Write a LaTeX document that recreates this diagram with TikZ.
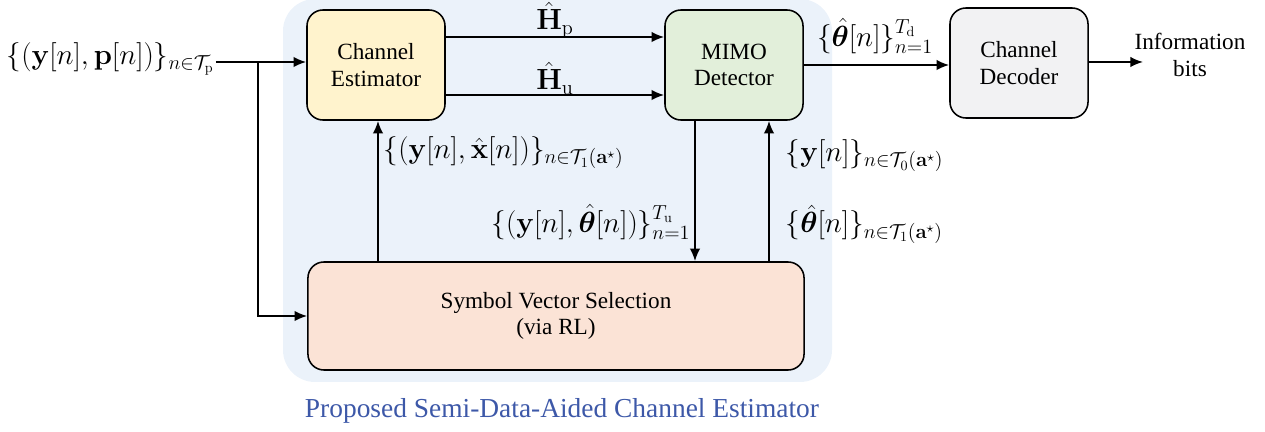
\documentclass[tikz,border=0pt]{standalone}
\usepackage[no-math]{fontspec}
\setmainfont{Liberation Serif}
\usepackage{amsmath,bm}
\usetikzlibrary{arrows.meta}

\definecolor{bgblue}{HTML}{EBF2FA}
\definecolor{estyellow}{HTML}{FFF3CD}
\definecolor{detgreen}{HTML}{E2EFDA}
\definecolor{decgray}{HTML}{F2F2F3}
\definecolor{selpink}{HTML}{FBE3D6}
\definecolor{capblue}{HTML}{3D58A8}

\begin{document}
\begin{tikzpicture}[x=0.025cm, y=-0.025cm,
    font=\fontsize{16.5}{19}\selectfont,
    block/.style={draw, line width=1.1pt, rounded corners=0.4cm, align=center,
        minimum width=3.45cm, minimum height=2.75cm},
    lbl/.style={font=\fontsize{20}{24}\selectfont, inner sep=1pt},
    arr/.style={-{Latex[length=9pt, width=7.5pt]}, line width=1.3pt}]
    \useasboundingbox (0,0) rectangle (1265,432);
    % Background of the proposed estimator
    \fill[bgblue, rounded corners=0.8cm] (283,-1) rectangle (832,382);

    % Blocks
    \node[block, fill=estyellow] (ce) at (376,65) {Channel\\Estimator};
    \node[block, fill=detgreen] (mimo) at (734,65) {MIMO\\Detector};
    \node[block, fill=decgray] (dec) at (1019,63) {Channel\\Decoder};
    \node[block, fill=selpink, minimum width=12.4cm, minimum height=2.7cm] (svs) at (556,316)
        {Symbol Vector Selection\\(via RL)};

    % Input and output texts
    \node[lbl, anchor=west] (inp) at (5,59) {$\{(\mathbf{y}[n],\mathbf{p}[n])\}_{n\in\mathcal{T}_\mathrm{p}}$};
    \node[align=center] (bits) at (1190,55) {Information\\bits};
    \coordinate (br) at (258,62);
    \coordinate (out) at (1143,62);

    % Input to estimator and selection
    \draw[arr] (inp.east |- br) -- (ce.west |- br);
    \draw[arr] (br) |- (svs.west);

    % Channel estimates
    \draw[arr] (ce.east |- 0,37) -- (mimo.west |- 0,37);
    \draw[arr] (ce.east |- 0,95) -- (mimo.west |- 0,95);
    \node[lbl] (hp) at (555,20) {$\hat{\mathbf{H}}_\mathrm{p}$};
    \node[lbl] (hu) at (555,78) {$\hat{\mathbf{H}}_\mathrm{u}$};

    % Feedback between selection, estimator and detector
    \draw[arr] (svs.north -| 378,0) -- (ce.south -| 378,0);
    \node[lbl, anchor=west] (lx) at (382,153) {$\{(\mathbf{y}[n],\hat{\mathbf{x}}[n])\}_{n\in\mathcal{T}_1(\mathbf{a}^\star)}$};
    \draw[arr] (mimo.south -| 695,0) -- (svs.north -| 695,0);
    \node[lbl, anchor=east] (lth) at (692,222) {$\{(\mathbf{y}[n],\hat{\bm{\theta}}[n])\}_{n=1}^{T_\mathrm{u}}$};
    \draw[arr] (svs.north -| 769,0) -- (mimo.south -| 769,0);
    \node[lbl, anchor=west] (ly) at (784,156) {$\{\mathbf{y}[n]\}_{n\in\mathcal{T}_0(\mathbf{a}^\star)}$};
    \node[lbl, anchor=west] (lt) at (784,224) {$\{\hat{\bm{\theta}}[n]\}_{n\in\mathcal{T}_1(\mathbf{a}^\star)}$};

    % Detector output to decoder
    \draw[arr] (mimo.east |- 0,65) -- (dec.west |- 0,65);
    \node[lbl] (ltd) at (875,36) {$\{\hat{\bm{\theta}}[n]\}_{n=1}^{T_\mathrm{d}}$};
    \draw[arr] (dec.east |- out) -- (out);

    % Caption
    \node[text=capblue, font=\fontsize{19.5}{22}\selectfont] (cap) at (562,411) {Proposed Semi-Data-Aided Channel Estimator};
\end{tikzpicture}
\end{document}
